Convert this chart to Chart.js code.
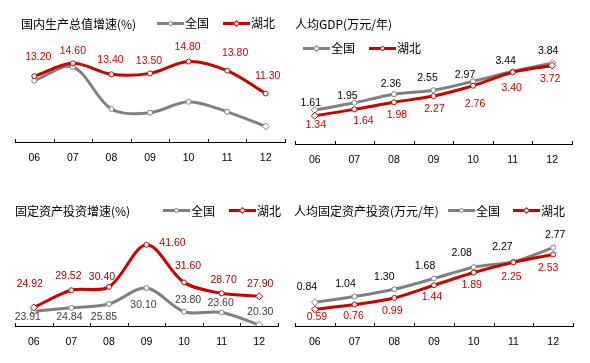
<!DOCTYPE html>
<html lang="zh">
<head>
<meta charset="UTF-8">
<title>湖北与全国主要指标</title>
<script src="https://cdn.jsdelivr.net/npm/chart.js"></script>
<style>
  body { margin: 0; background: #fff; }
  #wrap { position: relative; width: 590px; height: 363px; overflow: hidden;
          font-family: "Noto Sans CJK SC", sans-serif; font-size: 12px; color: #000; }
  .panel { position: absolute; }
  .txt { position: absolute; line-height: 14px; white-space: nowrap; z-index: 2; }
  .sw { position: absolute; height: 3px; width: 27px; z-index: 2; }
  .mk { position: absolute; width: 3px; height: 3px; background: #fff; border: 1px solid; z-index: 3; }
  .mk.c { border-radius: 50%; }
  .mk.d { transform: rotate(45deg); }
</style>
</head>
<body>
<div id="wrap">
  <div class="panel" style="left:0;top:0"><canvas id="gdpGrowth" width="295" height="180"></canvas></div>
  <div class="panel" style="left:290px;top:0"><canvas id="gdpPerCap" width="300" height="180"></canvas></div>
  <div class="panel" style="left:0;top:180px"><canvas id="invGrowth" width="295" height="183"></canvas></div>
  <div class="panel" style="left:290px;top:180px"><canvas id="invPerCap" width="300" height="183"></canvas></div>
</div>

<script>
// data
const years = ['06', '07', '08', '09', '10', '11', '12'];

const gdpGrowthChina = [12.7, 14.2, 9.6, 9.2, 10.4, 9.3, 7.7];
const gdpGrowthHubei = [13.2, 14.6, 13.4, 13.5, 14.8, 13.8, 11.3];

const gdpPerCapChina = [1.61, 1.95, 2.36, 2.55, 2.97, 3.44, 3.84];
const gdpPerCapHubei = [1.34, 1.64, 1.98, 2.27, 2.76, 3.40, 3.72];

const invGrowthChina = [23.91, 24.84, 25.85, 30.10, 23.80, 23.60, 20.30];
const invGrowthHubei = [24.92, 29.52, 30.40, 41.60, 31.60, 28.70, 27.90];

const invPerCapChina = [0.84, 1.04, 1.30, 1.68, 2.08, 2.27, 2.77];
const invPerCapHubei = [0.59, 0.76, 0.99, 1.44, 1.89, 2.25, 2.53];

const GRAY = '#808080';
const RED = '#cc0000';

// value labels drawn next to each point (offsets in px from the point)
const valueLabels = {
    id: 'valueLabels',
    afterDatasetsDraw(chart) {
        const ctx = chart.ctx;
        chart.data.datasets.forEach((ds, i) => {
            const lab = ds.valueLabels;
            if (!lab) return;
            ctx.save();
            ctx.font = '10.5px "Liberation Sans", Arial, sans-serif';
            ctx.fillStyle = lab.color;
            ctx.textAlign = 'center';
            ctx.textBaseline = 'middle';
            chart.getDatasetMeta(i).data.forEach((pt, j) => {
                ctx.fillText(ds.data[j].toFixed(2), pt.x + lab.dx[j], pt.y + lab.dy[j]);
            });
            ctx.restore();
        });
    }
};

// short tick marks pointing up from the category axis
const axisTicks = {
    id: 'axisTicks',
    afterDraw(chart) {
        const s = chart.scales.x, ctx = chart.ctx;
        ctx.save();
        ctx.strokeStyle = '#000';
        ctx.lineWidth = 1;
        ctx.beginPath();
        for (let i = 0; i <= s.ticks.length; i++) {
            const px = Math.round(s.getPixelForValue(i - 0.5)) + 0.5;
            ctx.moveTo(px, s.top - 3);
            ctx.lineTo(px, s.top);
        }
        ctx.stroke();
        ctx.restore();
    }
};

function marks(diamonds) {
    return years.map((y, i) => diamonds.includes(i) ? 'rectRot' : 'circle');
}

function series(values, color, order, styles, labels) {
    return {
        data: values,
        order: order,
        borderColor: color,
        borderWidth: 3,
        tension: 0.33,
        pointStyle: styles,
        pointRadius: styles.map(s => s === 'rectRot' ? 3.5 : 2.5),
        pointBorderWidth: 1,
        pointBorderColor: color,
        pointBackgroundColor: '#fff',
        valueLabels: labels
    };
}

function makeChart(id, datasets, min, max, pad) {
    return new Chart(document.getElementById(id), {
        type: 'line',
        data: { labels: years, datasets: datasets },
        options: {
            responsive: false,
            animation: false,
            layout: { padding: pad },
            plugins: { legend: { display: false }, tooltip: { enabled: false } },
            scales: {
                x: {
                    offset: true,
                    grid: { display: false, drawTicks: false },
                    border: { display: true, color: '#000', width: 1 },
                    ticks: { color: '#000', padding: 10, font: { family: 'Liberation Sans', size: 10.5 } },
                    afterFit: s => { s.height = 25; }
                },
                y: { display: false, min: min, max: max }
            }
        },
        plugins: [valueLabels, axisTicks]
    });
}

makeChart('gdpGrowth', [
    series(gdpGrowthChina, GRAY, 1, marks([6]), null),
    series(gdpGrowthHubei, RED, 0, marks([]),
        { color: RED, dx: [4, 0, -1, -1, -1, 8, 2], dy: [-19, -12, -14, -12, -14, -18, -17] })
], 6, 16, { left: 15, right: 10, top: 50.5, bottom: 13 });

makeChart('gdpPerCap', [
    series(gdpPerCapChina, GRAY, 1, marks([0, 6]),
        { color: '#000', dx: [-4, -7, -3, -6, -8, -7, -4], dy: [-7, -7, -10, -12, -6, -10, -12] }),
    series(gdpPerCapHubei, RED, 0, marks([0, 6]),
        { color: RED, dx: [1, 9, 3, 1, 2, -1, -2], dy: [9, 12, 13, 13, 18, 16, 14] })
], 0, 4.5, { left: 4, right: 18, top: 49, bottom: 11 });

makeChart('invGrowth', [
    series(invGrowthChina, GRAY, 1, marks([6]),
        { color: '#404040', dx: [-6, -2, -5, -3, 4, -1, 1], dy: [6, 9, 13, 17, -12, -9, -13] }),
    series(invGrowthHubei, RED, 0, marks([0, 6]),
        { color: '#990000', dx: [-4, -3, -7, 26, 4, 2, 1], dy: [-23, -14, -10, -2, -16, -13, -12] })
], 20, 45, { left: 15, right: 17, top: 52, bottom: 12 });

makeChart('invPerCap', [
    series(invPerCapChina, GRAY, 1, marks([0]),
        { color: '#000', dx: [-8, -9, -10, -9, -12, -11, 2], dy: [-15, -12, -12, -12, -14, -15, -13] }),
    series(invPerCapHubei, RED, 0, marks([0]),
        { color: RED, dx: [2, -1, -2, -2, -2, -2, -5], dy: [8, 12, 13, 12, 13, 15, 14] })
], 0, 3.5, { left: 1, right: 17, top: 47, bottom: 12 });

// titles and legends as html text
const wrap = document.getElementById('wrap');

function addText(x, yc, text) {
    const d = document.createElement('div');
    d.className = 'txt';
    d.style.left = x + 'px';
    d.style.top = (yc - 7) + 'px';
    d.textContent = text;
    wrap.appendChild(d);
}

function addLegend(x, yc, color, shape, text) {
    const sw = document.createElement('div');
    sw.className = 'sw';
    sw.style.left = x + 'px';
    sw.style.top = (yc - 1.5) + 'px';
    sw.style.background = color;
    wrap.appendChild(sw);
    const mk = document.createElement('div');
    mk.className = 'mk ' + shape;
    mk.style.left = (x + 11) + 'px';
    mk.style.top = (yc - 2.5) + 'px';
    mk.style.borderColor = color;
    wrap.appendChild(mk);
    addText(x + 28, yc, text);
}

addText(21, 24, '国内生产总值增速(%)');
addLegend(157, 23, GRAY, 'c', '全国');
addLegend(223, 23, RED, 'd', '湖北');

addText(295, 24, '人均GDP(万元/年)');
addLegend(303, 48, GRAY, 'd', '全国');
addLegend(369, 48, RED, 'c', '湖北');

addText(15, 210.7, '固定资产投资增速(%)');
addLegend(163, 210.7, GRAY, 'c', '全国');
addLegend(229, 210.7, RED, 'd', '湖北');

addText(294, 210.7, '人均固定资产投资(万元/年)');
addLegend(448, 210.7, GRAY, 'c', '全国');
addLegend(513, 210.7, RED, 'd', '湖北');
</script>
</body>
</html>
